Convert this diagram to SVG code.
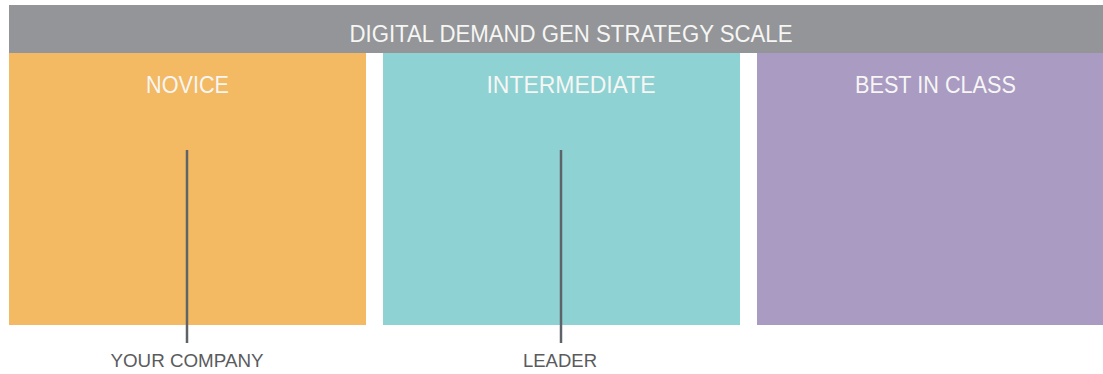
<svg xmlns="http://www.w3.org/2000/svg" width="1103" height="374" viewBox="0 0 1103 374">
<style>
.hd{font-family:"Liberation Sans",Arial,sans-serif;fill:#f6f6f4;text-anchor:middle;font-size:23px}
.lb{font-family:"Liberation Sans",Arial,sans-serif;fill:#5a5b5d;text-anchor:middle;font-size:19px}
.mk{stroke:#5e6367;stroke-width:2.5}
</style>
<rect width="1103" height="374" fill="#ffffff"/>
<g id="header">
<rect x="9" y="5" width="1094" height="48" fill="#939598"/>
<text class="hd" x="571" y="42" textLength="443" lengthAdjust="spacingAndGlyphs">DIGITAL DEMAND GEN STRATEGY SCALE</text>
</g>
<g id="novice">
<rect x="9" y="53" width="357" height="272" fill="#f3b963"/>
<text class="hd" x="187.5" y="93" textLength="83" lengthAdjust="spacingAndGlyphs">NOVICE</text>
</g>
<g id="intermediate">
<rect x="383" y="53" width="357" height="272" fill="#8ed2d3"/>
<text class="hd" x="571" y="93" textLength="169" lengthAdjust="spacingAndGlyphs">INTERMEDIATE</text>
</g>
<g id="best">
<rect x="757" y="53" width="346" height="272" fill="#aa9bc2"/>
<text class="hd" x="935.5" y="93" textLength="161" lengthAdjust="spacingAndGlyphs">BEST IN CLASS</text>
</g>
<g id="connectors">
<line class="mk" x1="187" y1="150" x2="187" y2="343"/>
<line class="mk" x1="561" y1="150" x2="561" y2="343"/>
</g>
<g id="your-company">
<text class="lb" x="187" y="367" textLength="153" lengthAdjust="spacingAndGlyphs">YOUR COMPANY</text>
</g>
<g id="leader">
<text class="lb" x="560" y="367" textLength="74" lengthAdjust="spacingAndGlyphs">LEADER</text>
</g>
</svg>
